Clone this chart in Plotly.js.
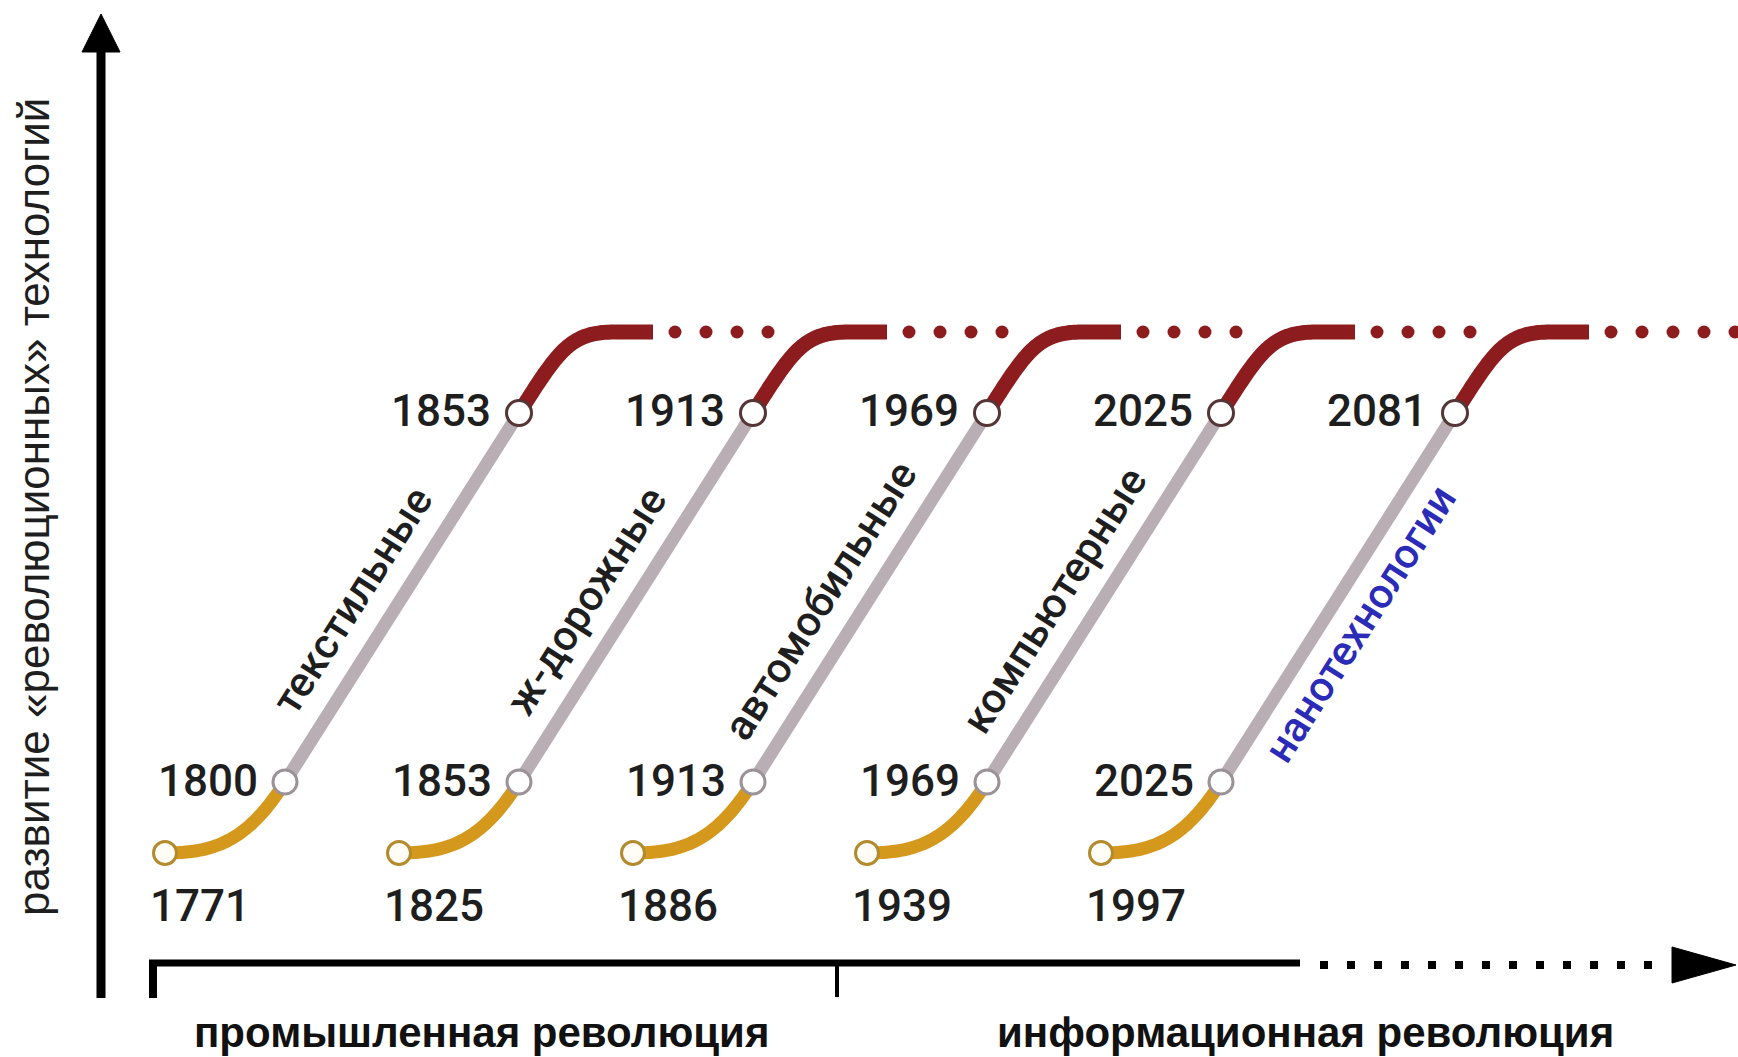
<!DOCTYPE html>
<html><head><meta charset="utf-8">
<script src="https://cdn.plot.ly/plotly-3.0.1.min.js"></script>
<style>html,body{margin:0;padding:0;background:#fff}#chart{width:1738px;height:1057px}</style>
</head><body><div id="chart"></div>
<script>
// ---- data ----
const waveNames  = ['текстильные', 'ж-дорожные', 'автомобильные', 'компьютерные', 'нанотехнологии'];
const startYears = [1771, 1825, 1886, 1939, 1997];
const midYears   = [1800, 1853, 1913, 1969, 2025];
const topYears   = [1853, 1913, 1969, 2025, 2081];
const yAxisTitle = 'развитие «революционных» технологий';
const eraLabels  = ['промышленная революция', 'информационная революция'];

// ---- geometry (style) ----
const W = 1738, H = 1057;
const UX = 234, UY = 521, X0 = 165, Y0 = 853;   // one wave step, one level step, origin px
const SANS = '"Liberation Sans", Arial, sans-serif';
const C_YEL = '#d4981c', C_GRAY = '#b9aeb4', C_RED = '#8c1c1e';

function rel(i, dx, dy) { return [i + dx / UX, dy / UY]; }
function bez(i, p0, p1, p2, p3, n) {
  const xs = [], ys = [];
  for (let k = 0; k <= n; k++) {
    const t = k / n, a = (1 - t) ** 3, b = 3 * (1 - t) ** 2 * t, c = 3 * (1 - t) * t * t, d = t ** 3;
    const px = a * p0[0] + b * p1[0] + c * p2[0] + d * p3[0];
    const py = a * p0[1] + b * p1[1] + c * p2[1] + d * p3[1];
    const r = rel(i, px, py); xs.push(r[0]); ys.push(r[1]);
  }
  return { x: xs, y: ys };
}
const S = [0, 0], M = [120, 71], T = [354, 440], Q = [450, 521], E = [488, 521];
const DIR = [234, 369];

const traces = [];
const sX = [], sY = [], mX = [], mY = [], tX = [], tY = [];
const dotX = [], dotY = [];
const annotations = [];

waveNames.forEach((name, i) => {
  // rising start (yellow)
  const y1 = bez(i, S, [50, 0], [M[0] - 0.16 * DIR[0], M[1] - 0.16 * DIR[1]], M, 60);
  traces.push({ type: 'scatter', mode: 'lines', x: y1.x, y: y1.y, line: { color: C_YEL, width: 13, simplify: false }, hoverinfo: 'skip' });
  // main growth (gray)
  const m = rel(i, M[0], M[1]), t = rel(i, T[0], T[1]);
  traces.push({ type: 'scatter', mode: 'lines', x: [m[0], t[0]], y: [m[1], t[1]], line: { color: C_GRAY, width: 13 }, hoverinfo: 'skip' });
  // saturation (red)
  const r1 = bez(i, T, [T[0] + 0.17 * DIR[0], T[1] + 0.17 * DIR[1]], [Q[0] - 45, Q[1]], Q, 60);
  const e = rel(i, E[0], E[1]);
  r1.x.push(e[0]); r1.y.push(e[1]);
  traces.push({ type: 'scatter', mode: 'lines', x: r1.x, y: r1.y, line: { color: C_RED, width: 15, simplify: false }, hoverinfo: 'skip' });
  // dotted continuation
  const last = i === waveNames.length - 1;
  for (let dx = 510; last ? (X0 + (i * UX) + dx < W) : dx < 620; dx += 31) {
    const d = rel(i, dx, 521); dotX.push(d[0]); dotY.push(d[1]);
  }
  const s = rel(i, S[0], S[1]);
  sX.push(s[0]); sY.push(s[1]); mX.push(m[0]); mY.push(m[1]); tX.push(t[0]); tY.push(t[1]);

  const yf = { family: 'Roboto, sans-serif', size: 44, color: '#1e1e1e', weight: 500 };
  annotations.push({ x: s[0], y: s[1], xref: 'x', yref: 'y', text: String(startYears[i]), showarrow: false,
    xanchor: 'left', yanchor: 'middle', xshift: -17, yshift: -53, font: yf });
  annotations.push({ x: m[0], y: m[1], xref: 'x', yref: 'y', text: String(midYears[i]), showarrow: false,
    xanchor: 'right', yanchor: 'middle', xshift: -25, yshift: 1, font: yf });
  annotations.push({ x: t[0], y: t[1], xref: 'x', yref: 'y', text: String(topYears[i]), showarrow: false,
    xanchor: 'right', yanchor: 'middle', xshift: -26, yshift: 2, font: yf });
  // wave name along the gray line
  const mid = rel(i, (M[0] + T[0]) / 2, (M[1] + T[1]) / 2);
  annotations.push({ x: mid[0], y: mid[1], xref: 'x', yref: 'y', text: name, showarrow: false,
    textangle: -57.5, xanchor: 'center', yanchor: 'middle',
    xshift: last ? 22 : -50, yshift: last ? -26 : -3,
    font: { family: 'Roboto, sans-serif', size: 42, color: last ? '#2b2bb8' : '#1e1e1e', weight: 500 } });
});

traces.push({ type: 'scatter', mode: 'markers', x: dotX, y: dotY, marker: { color: C_RED, size: 13 }, hoverinfo: 'skip', cliponaxis: false });
traces.push({ type: 'scatter', mode: 'markers', x: sX, y: sY, marker: { color: '#fffdf6', size: 23, line: { color: '#b38b2e', width: 3 } }, hoverinfo: 'skip' });
traces.push({ type: 'scatter', mode: 'markers', x: mX, y: mY, marker: { color: '#ffffff', size: 24, line: { color: '#9b9298', width: 3 } }, hoverinfo: 'skip' });
traces.push({ type: 'scatter', mode: 'markers', x: tX, y: tY, marker: { color: '#ffffff', size: 25, line: { color: '#553535', width: 3 } }, hoverinfo: 'skip' });

// ---- decorative axes (paper coords from px) ----
const px = v => v / W, py = v => 1 - v / H;
const shapes = [
  { type: 'line', xref: 'paper', yref: 'paper', x0: px(101), x1: px(101), y0: py(998), y1: py(40), line: { color: '#000', width: 9 } },
  { type: 'path', xref: 'paper', yref: 'paper', fillcolor: '#000', line: { color: '#000', width: 1 },
    path: `M ${px(101)} ${py(14)} L ${px(82)} ${py(52)} L ${px(120)} ${py(52)} Z` },
  { type: 'line', xref: 'paper', yref: 'paper', x0: px(149), x1: px(1300), y0: py(963), y1: py(963), line: { color: '#000', width: 7 } },
  { type: 'line', xref: 'paper', yref: 'paper', x0: px(1320), x1: px(1668), y0: py(965), y1: py(965), line: { color: '#000', width: 8, dash: '8px,19px' } },
  { type: 'path', xref: 'paper', yref: 'paper', fillcolor: '#000', line: { color: '#000', width: 1 },
    path: `M ${px(1736)} ${py(965)} L ${px(1672)} ${py(947)} L ${px(1672)} ${py(983)} Z` },
  { type: 'line', xref: 'paper', yref: 'paper', x0: px(153), x1: px(153), y0: py(960), y1: py(998), line: { color: '#000', width: 8 } },
  { type: 'line', xref: 'paper', yref: 'paper', x0: px(837), x1: px(837), y0: py(960), y1: py(997), line: { color: '#000', width: 4 } }
];

annotations.push({ xref: 'paper', yref: 'paper', x: px(33), y: py(507), text: yAxisTitle, showarrow: false,
  textangle: -90, xanchor: 'center', yanchor: 'middle', font: { family: SANS, size: 44, color: '#1e1e1e' } });
annotations.push({ xref: 'paper', yref: 'paper', x: px(481), y: py(1032), text: eraLabels[0], showarrow: false,
  xanchor: 'center', yanchor: 'middle', font: { family: SANS, size: 42, color: '#111', weight: 'bold' } });
annotations.push({ xref: 'paper', yref: 'paper', x: px(1305), y: py(1032), text: eraLabels[1], showarrow: false,
  xanchor: 'center', yanchor: 'middle', font: { family: SANS, size: 42, color: '#111', weight: 'bold' } });

const layout = {
  width: W, height: H, margin: { l: 0, r: 0, t: 0, b: 0, pad: 0 },
  paper_bgcolor: '#fff', plot_bgcolor: '#fff', showlegend: false,
  xaxis: { visible: false, range: [(0 - X0) / UX, (W - X0) / UX], fixedrange: true },
  yaxis: { visible: false, range: [(Y0 - H) / UY, Y0 / UY], fixedrange: true },
  shapes, annotations
};
Plotly.newPlot('chart', traces, layout, { staticPlot: true, displayModeBar: false });
</script>
</body></html>
